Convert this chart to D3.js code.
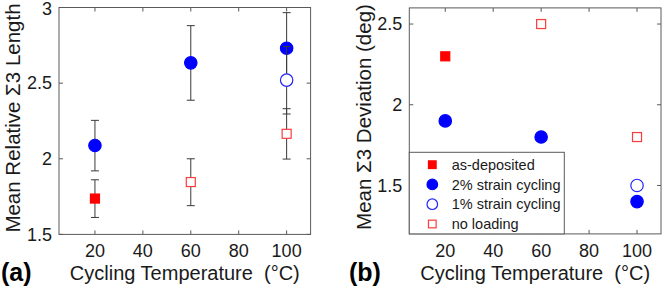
<!DOCTYPE html>
<html>
<head>
<meta charset="utf-8">
<script src="https://cdn.jsdelivr.net/npm/d3@7"></script>
<style>
  body { margin: 0; background: #fff; }
  svg { display: block; font-family: Arial, "Liberation Sans", Helvetica, sans-serif; }
</style>
</head>
<body>
<svg id="chart" width="664" height="290"></svg>
<script>
// x categories (cycling temperature, °C)
const xTicks = [20, 40, 60, 80, 100];

// panel (a): mean relative Σ3 length, with error bars
const asDepA    = [{ t: 20,  v: 1.737, lo: 1.612, hi: 1.861 }];
const strain2A  = [{ t: 20,  v: 2.088, lo: 1.920, hi: 2.254 },
                   { t: 60,  v: 2.634, lo: 2.387, hi: 2.880 },
                   { t: 100, v: 2.731, lo: 2.490, hi: 2.966 }];
const strain1A  = [{ t: 100, v: 2.520, lo: 2.296, hi: 2.742 }];
const noLoadA   = [{ t: 60,  v: 1.846, lo: 1.690, hi: 2.000 },
                   { t: 100, v: 2.165, lo: 1.998, hi: 2.331 }];
const yTicksA   = [1.5, 2, 2.5, 3];

// panel (b): mean Σ3 deviation (deg), no error bars
const asDepB    = [{ t: 20,  v: 2.30 }];
const strain2B  = [{ t: 20,  v: 1.90 }, { t: 60, v: 1.80 }, { t: 100, v: 1.40 }];
const strain1B  = [{ t: 100, v: 1.50 }];
const noLoadB   = [{ t: 60,  v: 2.50 }, { t: 100, v: 1.80 }];
const yTicksB   = [1.5, 2, 2.5];

const legendNames = ["as-deposited", "2% strain cycling", "1% strain cycling", "no loading"];

const svg = d3.select("#chart");
const frameColor = "#5a5a5a";
const textColor = "#1a1a1a";

// marker styles for the four series
const styles = [
  { shape: "square", fill: "#ff0000", stroke: "#ff0000" },
  { shape: "circle", fill: "#0000ff", stroke: "#0000ff" },
  { shape: "circle", fill: "#ffffff", stroke: "#2424ff" },
  { shape: "square", fill: "#ffffff", stroke: "#ff3b3b" }
];

function drawMarker(g, style, cx, cy, scale = 1) {
  if (style.shape === "circle") {
    g.append("circle")
      .attr("cx", cx).attr("cy", cy).attr("r", 6.2 * scale)
      .attr("fill", style.fill).attr("stroke", style.stroke).attr("stroke-width", 1.2);
  } else {
    let s = 9 * scale;
    g.append("rect")
      .attr("x", cx - s / 2).attr("y", cy - s / 2).attr("width", s).attr("height", s)
      .attr("fill", style.fill).attr("stroke", style.stroke).attr("stroke-width", 1.2);
  }
}

function drawPanel(cfg) {
  const x = d3.scaleLinear().domain([5, 110]).range([cfg.left, cfg.right]);
  const y = d3.scaleLinear().domain(cfg.yDomain).range([cfg.bottom, cfg.top]);
  const g = svg.append("g");

  // frame
  g.append("rect")
    .attr("x", cfg.left).attr("y", cfg.top)
    .attr("width", cfg.right - cfg.left).attr("height", cfg.bottom - cfg.top)
    .attr("fill", "none").attr("stroke", frameColor).attr("stroke-width", 1);

  // inward ticks on all four sides (matlab box style)
  const tl = 4;
  xTicks.forEach(t => {
    g.append("line").attr("x1", x(t)).attr("x2", x(t)).attr("y1", cfg.bottom).attr("y2", cfg.bottom - tl).attr("stroke", frameColor);
    g.append("line").attr("x1", x(t)).attr("x2", x(t)).attr("y1", cfg.top).attr("y2", cfg.top + tl).attr("stroke", frameColor);
    g.append("text").attr("x", x(t)).attr("y", 257)
      .attr("text-anchor", "middle").attr("font-size", 18).attr("fill", textColor).text(t);
  });
  cfg.yTicks.forEach(t => {
    g.append("line").attr("x1", cfg.left).attr("x2", cfg.left + tl).attr("y1", y(t)).attr("y2", y(t)).attr("stroke", frameColor);
    g.append("line").attr("x1", cfg.right).attr("x2", cfg.right - tl).attr("y1", y(t)).attr("y2", y(t)).attr("stroke", frameColor);
    g.append("text").attr("x", cfg.left - 7).attr("y", Math.max(y(t), 9)).attr("dy", "0.35em")
      .attr("text-anchor", "end").attr("font-size", 18).attr("fill", textColor).text(t);
  });

  // series: error bars first then marker, series in legend order
  cfg.series.forEach((data, k) => {
    data.forEach(d => {
      if (d.lo !== undefined) {
        const cw = 4;
        g.append("line").attr("x1", x(d.t)).attr("x2", x(d.t)).attr("y1", y(d.lo)).attr("y2", y(d.hi))
          .attr("stroke", "#3a3a3a").attr("stroke-width", 1);
        [d.lo, d.hi].forEach(e => {
          g.append("line").attr("x1", x(d.t) - cw).attr("x2", x(d.t) + cw).attr("y1", y(e)).attr("y2", y(e))
            .attr("stroke", "#3a3a3a").attr("stroke-width", 1);
        });
      }
      drawMarker(g, styles[k], x(d.t), y(d.v));
    });
  });

  // axis labels (nbsp keeps the double space before the unit)
  g.append("text")
    .attr("x", (cfg.left + cfg.right) / 2).attr("y", 280)
    .attr("text-anchor", "middle").attr("font-size", 20).attr("fill", textColor)
    .text("Cycling Temperature\u00A0 (°C)");
  g.append("text")
    .attr("transform", `translate(${cfg.ylabelX},${cfg.ylabelY}) rotate(-90)`)
    .attr("text-anchor", "middle").attr("font-size", 20.5).attr("fill", textColor)
    .text(cfg.ylabel);
  g.append("text")
    .attr("x", cfg.tagX).attr("y", 281)
    .attr("font-size", 25).attr("font-weight", "bold").attr("fill", "#000")
    .text(cfg.tag);

  return { g, x, y };
}

drawPanel({
  left: 59, right: 310.6, top: 7.5, bottom: 234.4,
  yDomain: [1.5, 3], yTicks: yTicksA,
  series: [asDepA, strain2A, strain1A, noLoadA],
  ylabel: "Mean Relative \u03A33 Length", ylabelX: 20, ylabelY: 118,
  tag: "(a)", tagX: 1
});

drawPanel({
  left: 409.3, right: 661, top: 7.9, bottom: 233.9,
  yDomain: [1.2, 2.6], yTicks: yTicksB,
  series: [asDepB, strain2B, strain1B, noLoadB],
  ylabel: "Mean \u03A33 Deviation (deg)", ylabelX: 371, ylabelY: 117,
  tag: "(b)", tagX: 349
});

// legend box in the lower left of panel (b)
const leg = svg.append("g");
leg.append("rect")
  .attr("x", 409.3).attr("y", 152.3).attr("width", 155).attr("height", 233.9 - 152.3)
  .attr("fill", "#fff").attr("stroke", frameColor).attr("stroke-width", 1);
const rowY = d3.scalePoint().domain(legendNames).range([164.7, 224]);
legendNames.forEach((name, k) => {
  drawMarker(leg, styles[k], 432.3, rowY(name), 0.85);
  leg.append("text").attr("x", 451.7).attr("y", rowY(name)).attr("dy", "0.35em")
    .attr("font-size", 14.5).attr("fill", textColor).text(name);
});
</script>
</body>
</html>
